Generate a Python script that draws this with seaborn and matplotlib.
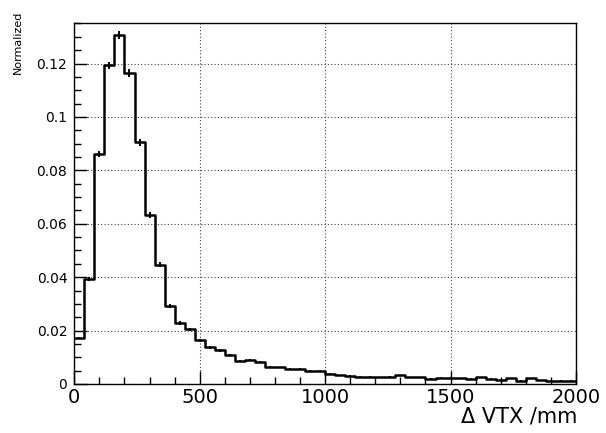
import matplotlib
matplotlib.use("Agg")
import matplotlib.pyplot as plt
import numpy as np
import pandas as pd
import seaborn as sns
from matplotlib.ticker import MultipleLocator, FuncFormatter

# histogram binning (mm)
bin_width = 40
x_max = 2000

# normalized bin contents, 0-2000 mm in 40 mm bins
norm_values = [
    0.0172, 0.0393, 0.0862, 0.1193, 0.1307, 0.1164, 0.0905, 0.0633, 0.0447, 0.0293,
    0.0228, 0.0205, 0.0163, 0.0137, 0.0126, 0.0109, 0.0087, 0.0091, 0.0084, 0.0064,
    0.0062, 0.0056, 0.0056, 0.0049, 0.0048, 0.0038, 0.0032, 0.0031, 0.0028, 0.0027,
    0.0025, 0.0026, 0.0033, 0.0025, 0.0025, 0.0019, 0.0024, 0.0024, 0.0022, 0.0019,
    0.0025, 0.0019, 0.0015, 0.0022, 0.0013, 0.0021, 0.0015, 0.0013, 0.0013, 0.0013,
]
# rough event count, only used for the Poisson error bars
n_events = 60000

y_ticks = [0, 0.02, 0.04, 0.06, 0.08, 0.1, 0.12]
x_ticks = [0, 500, 1000, 1500, 2000]

edges = np.arange(0, x_max + bin_width, bin_width)
centers = edges[:-1] + bin_width / 2
values = np.array(norm_values)
errors = np.sqrt(values / n_events)
df = pd.DataFrame({"vtx": centers, "frac": values})

sns.set_style("white")
plt.rcParams['font.family'] = ['DejaVu Sans']
plt.rcParams['text.color'] = 'black'
plt.rcParams['xtick.color'] = 'black'
plt.rcParams['ytick.color'] = 'black'

fig = plt.figure(figsize=(6.06, 4.33), dpi=100)
ax = fig.add_axes([0.1226, 0.1132, 0.8279, 0.8344])

sns.histplot(data=df, x="vtx", weights="frac", bins=len(norm_values),
             binrange=(0, x_max), element="step", fill=False,
             color="black", linewidth=1.8, ax=ax)
ax.errorbar(centers, values, yerr=errors, fmt="none", ecolor="black", elinewidth=1.4)

ax.set_xlim(0, x_max)
ax.set_ylim(0, 0.1353)

ax.set_xticks(x_ticks)
ax.set_yticks(y_ticks)
ax.xaxis.set_minor_locator(MultipleLocator(100))
ax.yaxis.set_minor_locator(MultipleLocator(0.005))
ax.yaxis.set_major_formatter(FuncFormatter(lambda v, p: f"{v:g}"))

ax.tick_params(axis="both", which="major", direction="in", length=9.5, width=1,
               bottom=True, left=True, top=False, right=False, colors="black")
ax.tick_params(axis="both", which="minor", direction="in", length=5, width=1,
               bottom=True, left=True, top=False, right=False, colors="black")
ax.tick_params(axis="x", labelsize=14, pad=3)
ax.tick_params(axis="y", labelsize=10, pad=5)

ax.grid(True, which="major", color="#444444", linestyle=(0, (1, 2)), linewidth=0.8)
ax.set_axisbelow(True)
for s in ax.spines.values():
    s.set_color("black")
    s.set_linewidth(1.0)

ax.set_ylabel("")
ax.set_xlabel("")
fig.text(577 / 606, 1 - 423 / 433, "Δ VTX /mm", ha="right", va="baseline", fontsize=15)
fig.text(18 / 606, 1 - 11 / 433, "Normalized", rotation=90, ha="center", va="top",
         fontsize=8)

fig.savefig("out.png", dpi=100)
